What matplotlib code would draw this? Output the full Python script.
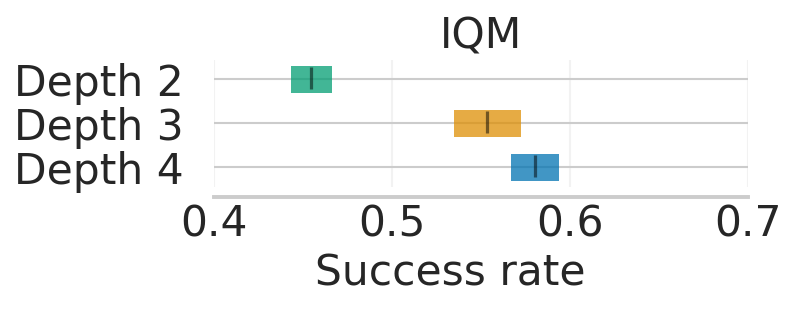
import matplotlib
matplotlib.use("Agg")
import matplotlib.pyplot as plt

algorithms = ["Depth 2", "Depth 3", "Depth 4"]
point_est = [0.4544, 0.5534, 0.5805]
lower = [0.4430, 0.5346, 0.5670]
upper = [0.4660, 0.5723, 0.5939]
colors = ["#029e73", "#de8f05", "#0173b2"]
xticks = [0.4, 0.5, 0.6, 0.7]
title = "IQM"
xlabel = "Success rate"

plt.rcParams["font.family"] = ["DejaVu Sans"]
text_color = "#262626"

W, H = 797, 311
fig = plt.figure(figsize=(W / 100, H / 100), dpi=100)
left, right, top, bottom = 214.3, 747.7, 60.0, 186.7
ax = fig.add_axes([left / W, 1 - bottom / H, (right - left) / W, (bottom - top) / H])

h = 0.6
for i, alg in enumerate(algorithms):
    ax.barh(y=i, width=upper[i] - lower[i], left=lower[i], height=h,
            color=colors[i], alpha=0.75, zorder=3, edgecolor="none")
    ax.vlines(x=point_est[i], ymin=i - 7.5 * h / 16, ymax=i + 6 * h / 16,
              color="k", alpha=0.5, lw=2.3, zorder=4)

ax.set_yticks(range(len(algorithms)))
ax.set_yticklabels(algorithms)
ax.set_xticks(xticks)
ax.set_xticklabels([f"{t:.1f}" for t in xticks])
ax.set_xlim(0.4, 0.7)
ax.set_ylim(2.44, -0.44)

ax.set_axisbelow(True)
ax.grid(True, axis="y", color="#cccccc", lw=1.5)
ax.grid(True, axis="x", color="#cccccc", lw=1.5, alpha=0.25)

for s in ["left", "right", "top"]:
    ax.spines[s].set_visible(False)
ax.spines["bottom"].set_color("#cccccc")
ax.spines["bottom"].set_linewidth(2.8)
ax.spines["bottom"].set_position(("outward", 7.2))

fs = 30.5
ax.tick_params(axis="both", length=0, labelsize=fs, colors=text_color)
ax.tick_params(axis="y", pad=22)
ax.tick_params(axis="x", pad=5)

ax.set_title(title, fontsize=fs, color=text_color, pad=8)
ax.set_xlabel(xlabel, fontsize=fs, color=text_color, labelpad=4)
ax.xaxis.set_label_coords((450.5 - left) / (right - left), -0.52)

fig.savefig("out.png", dpi=100)
